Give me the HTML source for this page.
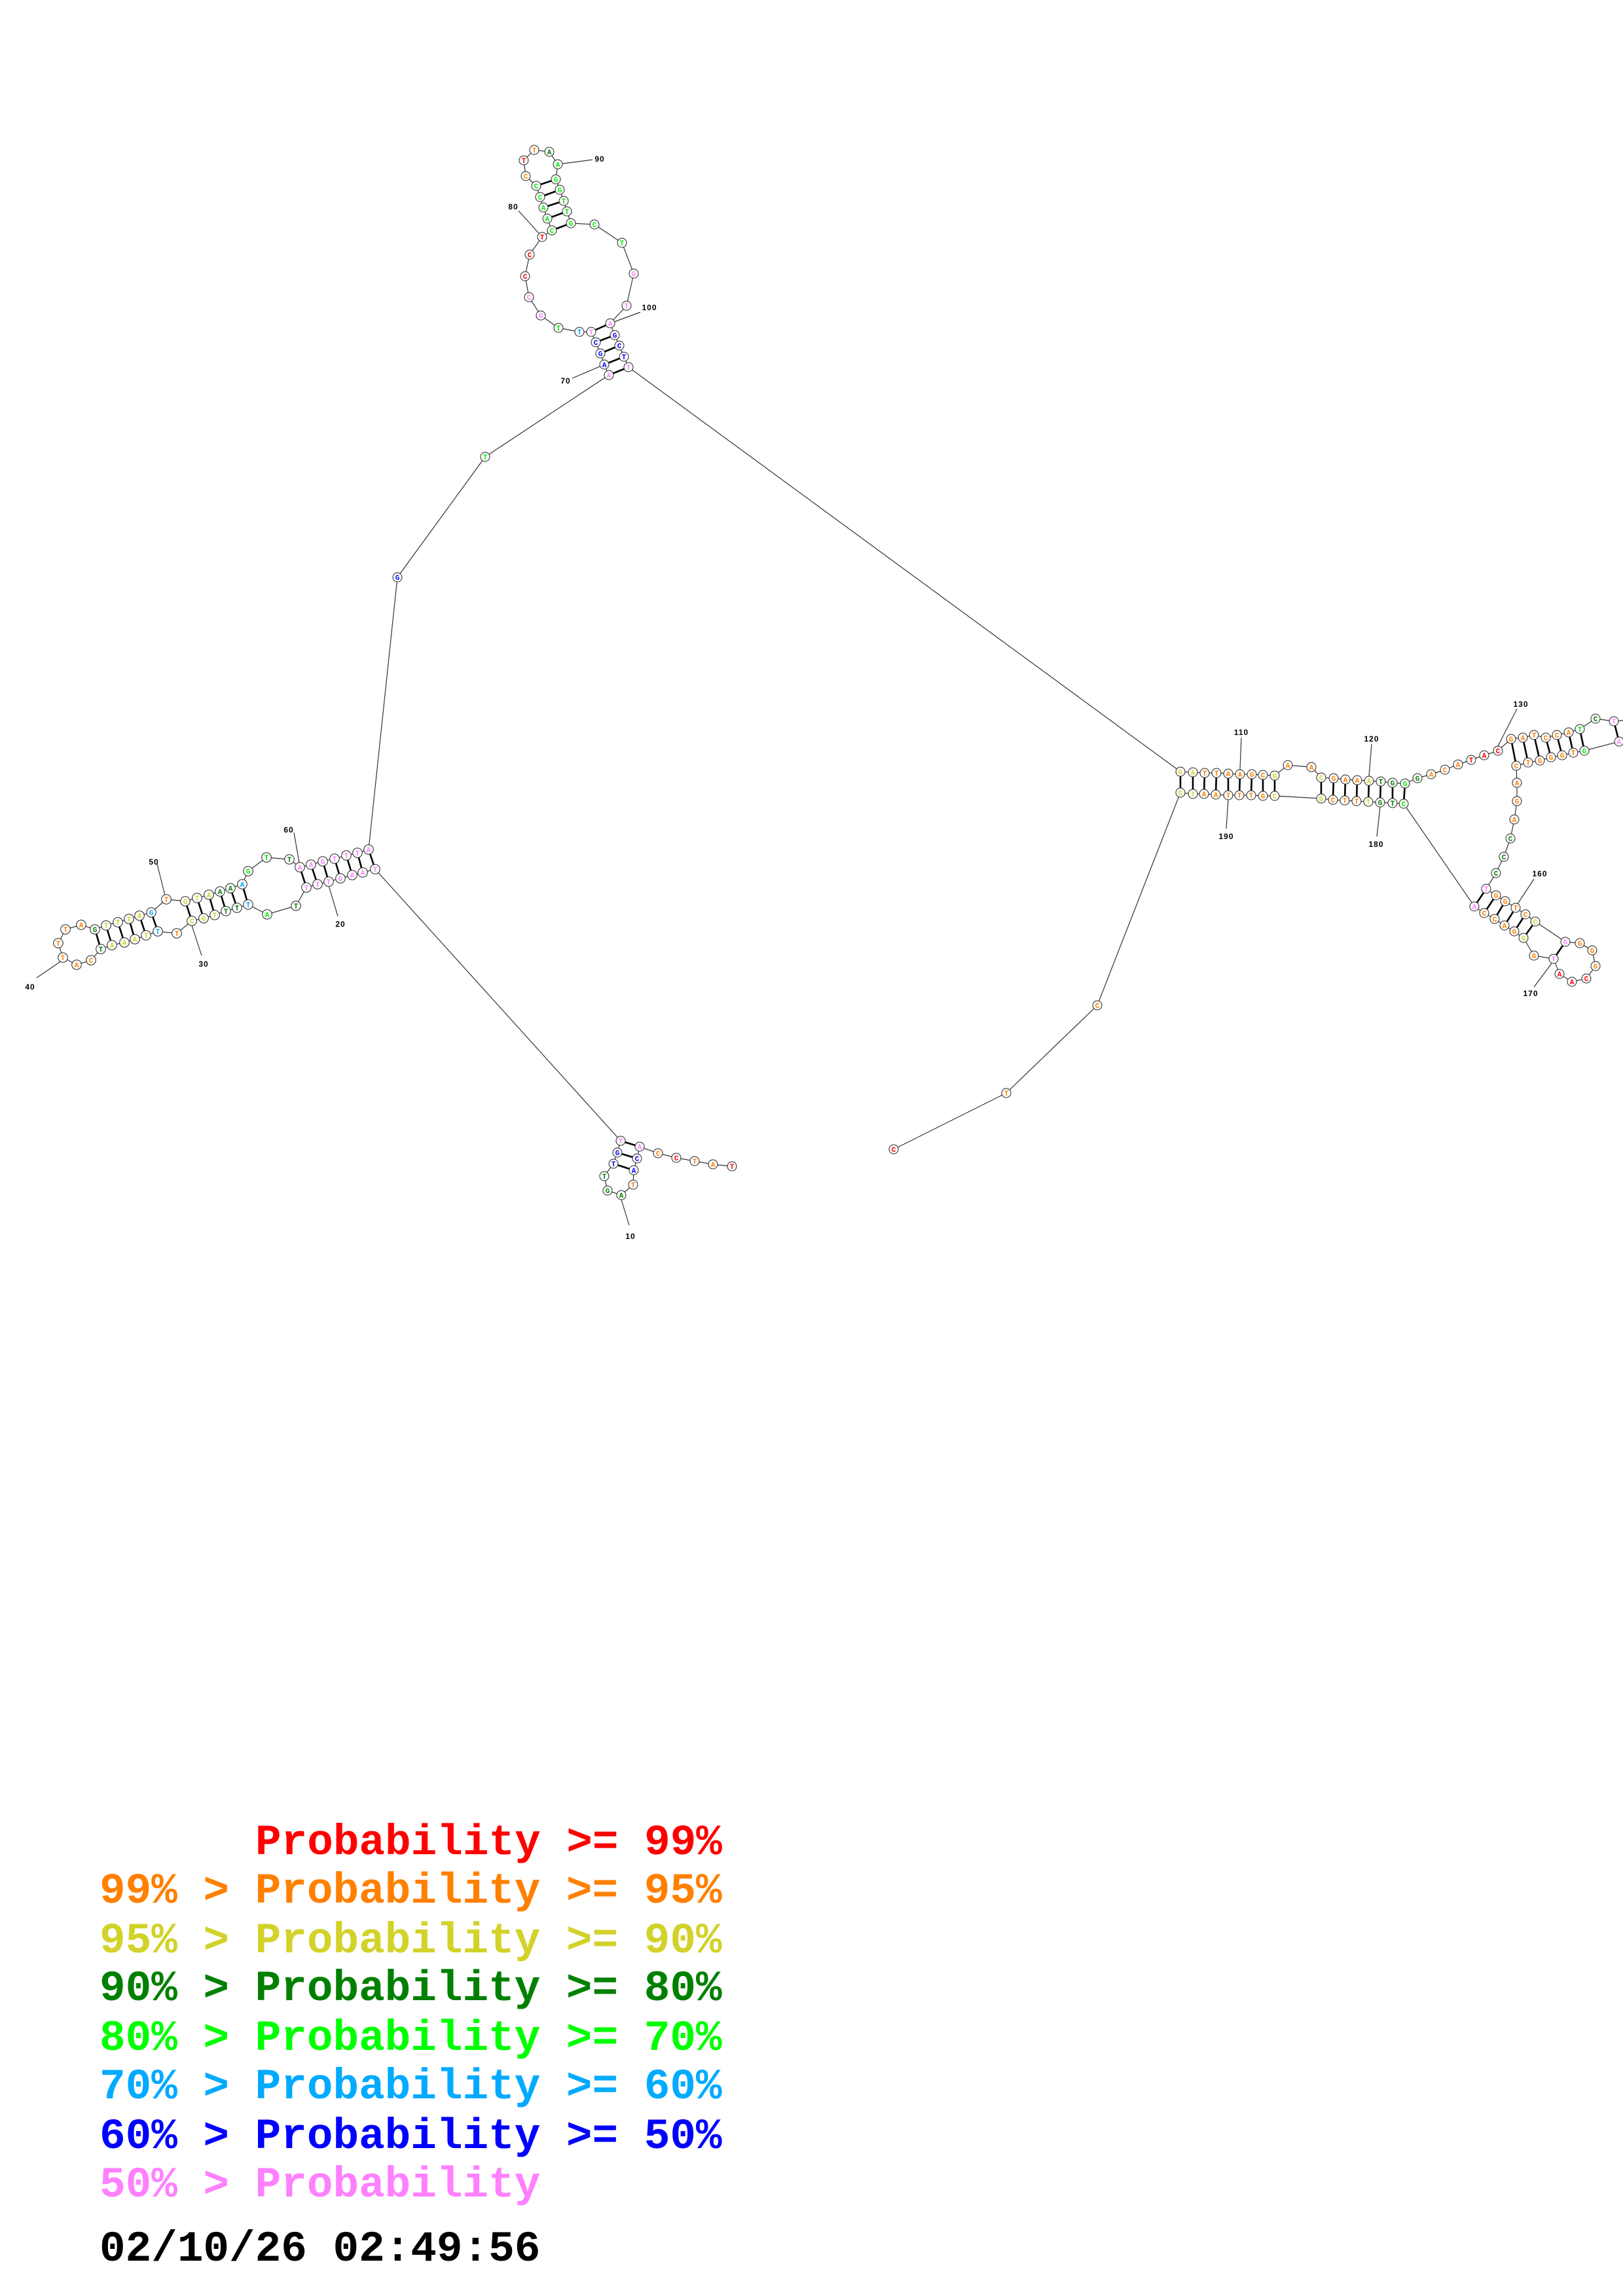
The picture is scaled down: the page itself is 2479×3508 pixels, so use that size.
<!DOCTYPE html>
<html><head><meta charset="utf-8"><style>
html,body{margin:0;padding:0;background:#fff}
svg{display:block}
.n circle{fill:#fff;stroke:#222;stroke-width:1}
.n text{font-family:"Liberation Mono",monospace;font-weight:bold;font-size:11px;text-anchor:middle}
.r text{fill:#ff0000}.o text{fill:#ff8000}.y text{fill:#d2d22a}.d text{fill:#008000}.g text{fill:#00ee00}.c text{fill:#00aaff}.b text{fill:#0000ff}.p text{fill:#ff80ff}
.lb{font-family:"Liberation Sans",sans-serif;font-weight:bold;font-size:12px;letter-spacing:1px;text-anchor:middle}
.lg{font-family:"Liberation Mono",monospace;font-weight:bold;font-size:66px}
</style></head><body>
<svg width="2479" height="3508" viewBox="0 0 2479 3508" xmlns="http://www.w3.org/2000/svg">
<g fill="none" stroke="#333" stroke-width="1.2">
<polyline points="1118,1782 1089,1779 1061,1774 1033,1769 1005,1762 977,1752 973,1770 968,1788 967,1810 949,1826 928,1819 923,1797 937,1778 943,1761 948,1743 573,1328 554,1333 538,1337 520,1342 502,1347 485,1351 468,1356 452,1384 408,1397 379,1382 362,1387 345,1392 328,1398 311,1403 293,1407 270,1426 241,1423 223,1429 206,1435 190,1440 171,1444 154,1450 139,1467 117,1474 96,1463 89,1441 100,1420 124,1413 145,1420 162,1414 180,1409 197,1404 213,1399 231,1394 254,1374 283,1377 301,1372 319,1367 336,1362 352,1357 370,1351 379,1331 407,1310 442,1313 458,1325 475,1321 493,1316 511,1312 529,1307 546,1303 563,1298 607,882 741,698 930,573 923,557 917,540 910,523 903,507 885,507 853,501 826,482 808,454 802,422 809,389 828,362 843,352 836,334 830,317 825,301 819,284 803,269 800,245 816,229 839,232 852,251 849,274 855,290 861,307 866,323 872,341 908,343 950,371 968,418 957,467 932,494 939,512 946,528 953,545 960,561 1803,1179 1822,1180 1840,1181 1858,1181 1876,1182 1894,1183 1912,1183 1929,1184 1947,1185 1967,1169 2003,1172 2018,1188 2037,1189 2055,1191 2073,1192 2091,1193 2109,1194 2127,1196 2146,1197 2165,1189 2186,1183 2207,1176 2227,1168 2247,1161 2267,1154 2288,1147 2308,1129 2326,1127 2343,1123 2361,1127 2378,1123 2396,1119 2413,1114 2437,1098 2465,1102 2490,1100"/>
<polyline points="2490,1135 2473,1133 2420,1147 2403,1150 2386,1154 2369,1157 2352,1162 2334,1165 2316,1170 2317,1196 2317,1224 2313,1252 2307,1281 2297,1309 2285,1334 2270,1358 2285,1368 2299,1377 2315,1387 2330,1397 2345,1408 2391,1439 2413,1441 2432,1452 2437,1476 2423,1495 2401,1500 2382,1488 2373,1465 2343,1460 2327,1433 2313,1423 2298,1414 2283,1404 2267,1395 2252,1385 2144,1228 2127,1227 2108,1226 2090,1225 2072,1224 2054,1223 2036,1222 2018,1220 1947,1216 1929,1216 1911,1215 1893,1215 1876,1215 1857,1214 1839,1213 1822,1213 1803,1211 1676,1536 1537,1670 1365,1756"/>
<path d="M949,1833L961,1872M449,1272L457,1318M240,1320L252,1368M293,1414L308,1460M502,1353L516,1400M94,1468L56,1494M852,251L905,244M792,322L828,362M932,494L978,477M874,578L923,557M1896,1127L1894,1176M1876,1222L1873,1266M2095,1137L2091,1186M2108,1233L2103,1278M2317,1083L2288,1140M2343,1343L2318,1381M2370,1472L2343,1508"/>
</g>
<g stroke="#000" stroke-width="2.6">
<path d="M948,1743L977,1752M943,1761L973,1770M937,1778L968,1788M563,1298L573,1328M546,1303L554,1333M529,1307L538,1337M511,1312L520,1342M493,1316L502,1347M475,1321L485,1351M458,1325L468,1356M370,1351L379,1382M352,1357L362,1387M336,1362L345,1392M319,1367L328,1398M301,1372L311,1403M283,1377L293,1407M231,1394L241,1423M213,1399L223,1429M197,1404L206,1435M180,1409L190,1440M162,1414L171,1444M145,1420L154,1450M930,573L960,561M923,557L953,545M917,540L946,528M910,523L939,512M903,507L932,494M843,352L872,341M836,334L866,323M830,317L861,307M825,301L855,290M819,284L849,274M1803,1179L1803,1211M1822,1180L1822,1213M1840,1181L1839,1213M1858,1181L1857,1214M1876,1182L1876,1215M1894,1183L1893,1215M1912,1183L1911,1215M1929,1184L1929,1216M1947,1185L1947,1216M2018,1188L2018,1220M2037,1189L2036,1222M2055,1191L2054,1223M2073,1192L2072,1224M2091,1193L2090,1225M2109,1194L2108,1226M2127,1196L2127,1227M2146,1197L2144,1228M2308,1129L2316,1170M2326,1127L2334,1165M2343,1123L2352,1162M2361,1127L2369,1157M2378,1123L2386,1154M2396,1119L2403,1150M2413,1114L2420,1147M2465,1102L2473,1133M2270,1358L2252,1385M2285,1368L2267,1395M2299,1377L2283,1404M2315,1387L2298,1414M2330,1397L2313,1423M2345,1408L2327,1433M2391,1439L2373,1465"/>
</g>
<g class="n">
<g class="r" transform="translate(1118 1782)"><circle r="7"/><text y="4">T</text></g>
<g class="o" transform="translate(1089 1779)"><circle r="7"/><text y="4">A</text></g>
<g class="o" transform="translate(1061 1774)"><circle r="7"/><text y="4">T</text></g>
<g class="r" transform="translate(1033 1769)"><circle r="7"/><text y="4">C</text></g>
<g class="o" transform="translate(1005 1762)"><circle r="7"/><text y="4">C</text></g>
<g class="p" transform="translate(977 1752)"><circle r="7"/><text y="4">A</text></g>
<g class="b" transform="translate(973 1770)"><circle r="7"/><text y="4">C</text></g>
<g class="b" transform="translate(968 1788)"><circle r="7"/><text y="4">A</text></g>
<g class="o" transform="translate(967 1810)"><circle r="7"/><text y="4">T</text></g>
<g class="d" transform="translate(949 1826)"><circle r="7"/><text y="4">A</text></g>
<g class="d" transform="translate(928 1819)"><circle r="7"/><text y="4">G</text></g>
<g class="d" transform="translate(923 1797)"><circle r="7"/><text y="4">T</text></g>
<g class="b" transform="translate(937 1778)"><circle r="7"/><text y="4">T</text></g>
<g class="b" transform="translate(943 1761)"><circle r="7"/><text y="4">G</text></g>
<g class="p" transform="translate(948 1743)"><circle r="7"/><text y="4">T</text></g>
<g class="p" transform="translate(573 1328)"><circle r="7.3"/><text y="4">T</text></g>
<g class="p" transform="translate(554 1333)"><circle r="7.3"/><text y="4">A</text></g>
<g class="p" transform="translate(538 1337)"><circle r="7.3"/><text y="4">A</text></g>
<g class="p" transform="translate(520 1342)"><circle r="7.3"/><text y="4">G</text></g>
<g class="p" transform="translate(502 1347)"><circle r="7.3"/><text y="4">T</text></g>
<g class="p" transform="translate(485 1351)"><circle r="7.3"/><text y="4">T</text></g>
<g class="p" transform="translate(468 1356)"><circle r="7.3"/><text y="4">T</text></g>
<g class="d" transform="translate(452 1384)"><circle r="7.3"/><text y="4">T</text></g>
<g class="g" transform="translate(408 1397)"><circle r="7.3"/><text y="4">A</text></g>
<g class="c" transform="translate(379 1382)"><circle r="7.3"/><text y="4">T</text></g>
<g class="d" transform="translate(362 1387)"><circle r="7.3"/><text y="4">T</text></g>
<g class="d" transform="translate(345 1392)"><circle r="7.3"/><text y="4">T</text></g>
<g class="y" transform="translate(328 1398)"><circle r="7.3"/><text y="4">T</text></g>
<g class="y" transform="translate(311 1403)"><circle r="7.3"/><text y="4">G</text></g>
<g class="y" transform="translate(293 1407)"><circle r="7.3"/><text y="4">C</text></g>
<g class="o" transform="translate(270 1426)"><circle r="7.3"/><text y="4">T</text></g>
<g class="c" transform="translate(241 1423)"><circle r="7.3"/><text y="4">T</text></g>
<g class="y" transform="translate(223 1429)"><circle r="7.3"/><text y="4">T</text></g>
<g class="y" transform="translate(206 1435)"><circle r="7.3"/><text y="4">A</text></g>
<g class="y" transform="translate(190 1440)"><circle r="7.3"/><text y="4">A</text></g>
<g class="y" transform="translate(171 1444)"><circle r="7.3"/><text y="4">A</text></g>
<g class="d" transform="translate(154 1450)"><circle r="7.3"/><text y="4">T</text></g>
<g class="o" transform="translate(139 1467)"><circle r="7.3"/><text y="4">C</text></g>
<g class="o" transform="translate(117 1474)"><circle r="7.3"/><text y="4">A</text></g>
<g class="o" transform="translate(96 1463)"><circle r="7.3"/><text y="4">T</text></g>
<g class="o" transform="translate(89 1441)"><circle r="7.3"/><text y="4">T</text></g>
<g class="o" transform="translate(100 1420)"><circle r="7.3"/><text y="4">T</text></g>
<g class="o" transform="translate(124 1413)"><circle r="7.3"/><text y="4">A</text></g>
<g class="d" transform="translate(145 1420)"><circle r="7.3"/><text y="4">G</text></g>
<g class="y" transform="translate(162 1414)"><circle r="7.3"/><text y="4">T</text></g>
<g class="y" transform="translate(180 1409)"><circle r="7.3"/><text y="4">T</text></g>
<g class="y" transform="translate(197 1404)"><circle r="7.3"/><text y="4">T</text></g>
<g class="y" transform="translate(213 1399)"><circle r="7.3"/><text y="4">A</text></g>
<g class="c" transform="translate(231 1394)"><circle r="7.3"/><text y="4">G</text></g>
<g class="o" transform="translate(254 1374)"><circle r="7.3"/><text y="4">T</text></g>
<g class="y" transform="translate(283 1377)"><circle r="7.3"/><text y="4">G</text></g>
<g class="y" transform="translate(301 1372)"><circle r="7.3"/><text y="4">T</text></g>
<g class="y" transform="translate(319 1367)"><circle r="7.3"/><text y="4">A</text></g>
<g class="d" transform="translate(336 1362)"><circle r="7.3"/><text y="4">A</text></g>
<g class="d" transform="translate(352 1357)"><circle r="7.3"/><text y="4">A</text></g>
<g class="c" transform="translate(370 1351)"><circle r="7.3"/><text y="4">A</text></g>
<g class="g" transform="translate(379 1331)"><circle r="7.3"/><text y="4">G</text></g>
<g class="g" transform="translate(407 1310)"><circle r="7.3"/><text y="4">T</text></g>
<g class="d" transform="translate(442 1313)"><circle r="7.3"/><text y="4">T</text></g>
<g class="p" transform="translate(458 1325)"><circle r="7.3"/><text y="4">A</text></g>
<g class="p" transform="translate(475 1321)"><circle r="7.3"/><text y="4">A</text></g>
<g class="p" transform="translate(493 1316)"><circle r="7.3"/><text y="4">G</text></g>
<g class="p" transform="translate(511 1312)"><circle r="7.3"/><text y="4">T</text></g>
<g class="p" transform="translate(529 1307)"><circle r="7.3"/><text y="4">T</text></g>
<g class="p" transform="translate(546 1303)"><circle r="7.3"/><text y="4">T</text></g>
<g class="p" transform="translate(563 1298)"><circle r="7.3"/><text y="4">A</text></g>
<g class="b" transform="translate(607 882)"><circle r="7"/><text y="4">G</text></g>
<g class="g" transform="translate(741 698)"><circle r="7"/><text y="4">T</text></g>
<g class="p" transform="translate(930 573)"><circle r="7"/><text y="4">A</text></g>
<g class="b" transform="translate(923 557)"><circle r="7"/><text y="4">A</text></g>
<g class="b" transform="translate(917 540)"><circle r="7"/><text y="4">G</text></g>
<g class="b" transform="translate(910 523)"><circle r="7"/><text y="4">C</text></g>
<g class="p" transform="translate(903 507)"><circle r="7"/><text y="4">T</text></g>
<g class="c" transform="translate(885 507)"><circle r="7"/><text y="4">T</text></g>
<g class="g" transform="translate(853 501)"><circle r="7"/><text y="4">T</text></g>
<g class="p" transform="translate(826 482)"><circle r="7"/><text y="4">G</text></g>
<g class="p" transform="translate(808 454)"><circle r="7"/><text y="4">C</text></g>
<g class="r" transform="translate(802 422)"><circle r="7"/><text y="4">C</text></g>
<g class="r" transform="translate(809 389)"><circle r="7"/><text y="4">C</text></g>
<g class="r" transform="translate(828 362)"><circle r="7"/><text y="4">T</text></g>
<g class="g" transform="translate(843 352)"><circle r="7"/><text y="4">C</text></g>
<g class="g" transform="translate(836 334)"><circle r="7"/><text y="4">A</text></g>
<g class="g" transform="translate(830 317)"><circle r="7"/><text y="4">A</text></g>
<g class="g" transform="translate(825 301)"><circle r="7"/><text y="4">C</text></g>
<g class="g" transform="translate(819 284)"><circle r="7"/><text y="4">C</text></g>
<g class="o" transform="translate(803 269)"><circle r="7"/><text y="4">C</text></g>
<g class="r" transform="translate(800 245)"><circle r="7"/><text y="4">T</text></g>
<g class="o" transform="translate(816 229)"><circle r="7"/><text y="4">T</text></g>
<g class="d" transform="translate(839 232)"><circle r="7"/><text y="4">A</text></g>
<g class="g" transform="translate(852 251)"><circle r="7"/><text y="4">A</text></g>
<g class="g" transform="translate(849 274)"><circle r="7"/><text y="4">G</text></g>
<g class="g" transform="translate(855 290)"><circle r="7"/><text y="4">G</text></g>
<g class="g" transform="translate(861 307)"><circle r="7"/><text y="4">T</text></g>
<g class="g" transform="translate(866 323)"><circle r="7"/><text y="4">T</text></g>
<g class="g" transform="translate(872 341)"><circle r="7"/><text y="4">G</text></g>
<g class="g" transform="translate(908 343)"><circle r="7"/><text y="4">C</text></g>
<g class="g" transform="translate(950 371)"><circle r="7"/><text y="4">T</text></g>
<g class="p" transform="translate(968 418)"><circle r="7"/><text y="4">G</text></g>
<g class="p" transform="translate(957 467)"><circle r="7"/><text y="4">T</text></g>
<g class="p" transform="translate(932 494)"><circle r="7"/><text y="4">A</text></g>
<g class="b" transform="translate(939 512)"><circle r="7"/><text y="4">G</text></g>
<g class="b" transform="translate(946 528)"><circle r="7"/><text y="4">C</text></g>
<g class="b" transform="translate(953 545)"><circle r="7"/><text y="4">T</text></g>
<g class="p" transform="translate(960 561)"><circle r="7"/><text y="4">T</text></g>
<g class="y" transform="translate(1803 1179)"><circle r="7"/><text y="4">G</text></g>
<g class="y" transform="translate(1822 1180)"><circle r="7"/><text y="4">A</text></g>
<g class="o" transform="translate(1840 1181)"><circle r="7"/><text y="4">T</text></g>
<g class="o" transform="translate(1858 1181)"><circle r="7"/><text y="4">T</text></g>
<g class="o" transform="translate(1876 1182)"><circle r="7"/><text y="4">A</text></g>
<g class="o" transform="translate(1894 1183)"><circle r="7"/><text y="4">A</text></g>
<g class="o" transform="translate(1912 1183)"><circle r="7"/><text y="4">G</text></g>
<g class="o" transform="translate(1929 1184)"><circle r="7"/><text y="4">C</text></g>
<g class="y" transform="translate(1947 1185)"><circle r="7"/><text y="4">G</text></g>
<g class="o" transform="translate(1967 1169)"><circle r="7"/><text y="4">A</text></g>
<g class="o" transform="translate(2003 1172)"><circle r="7"/><text y="4">A</text></g>
<g class="y" transform="translate(2018 1188)"><circle r="7"/><text y="4">C</text></g>
<g class="o" transform="translate(2037 1189)"><circle r="7"/><text y="4">G</text></g>
<g class="o" transform="translate(2055 1191)"><circle r="7"/><text y="4">A</text></g>
<g class="o" transform="translate(2073 1192)"><circle r="7"/><text y="4">A</text></g>
<g class="y" transform="translate(2091 1193)"><circle r="7"/><text y="4">A</text></g>
<g class="d" transform="translate(2109 1194)"><circle r="7"/><text y="4">T</text></g>
<g class="d" transform="translate(2127 1196)"><circle r="7"/><text y="4">G</text></g>
<g class="g" transform="translate(2146 1197)"><circle r="7"/><text y="4">G</text></g>
<g class="d" transform="translate(2165 1189)"><circle r="7"/><text y="4">G</text></g>
<g class="o" transform="translate(2186 1183)"><circle r="7"/><text y="4">A</text></g>
<g class="o" transform="translate(2207 1176)"><circle r="7"/><text y="4">C</text></g>
<g class="o" transform="translate(2227 1168)"><circle r="7"/><text y="4">A</text></g>
<g class="r" transform="translate(2247 1161)"><circle r="7"/><text y="4">T</text></g>
<g class="r" transform="translate(2267 1154)"><circle r="7"/><text y="4">A</text></g>
<g class="r" transform="translate(2288 1147)"><circle r="7"/><text y="4">C</text></g>
<g class="o" transform="translate(2308 1129)"><circle r="7"/><text y="4">G</text></g>
<g class="o" transform="translate(2326 1127)"><circle r="7"/><text y="4">A</text></g>
<g class="o" transform="translate(2343 1123)"><circle r="7"/><text y="4">T</text></g>
<g class="o" transform="translate(2361 1127)"><circle r="7"/><text y="4">C</text></g>
<g class="o" transform="translate(2378 1123)"><circle r="7"/><text y="4">C</text></g>
<g class="o" transform="translate(2396 1119)"><circle r="7"/><text y="4">A</text></g>
<g class="g" transform="translate(2413 1114)"><circle r="7"/><text y="4">T</text></g>
<g class="d" transform="translate(2437 1098)"><circle r="7"/><text y="4">C</text></g>
<g class="p" transform="translate(2465 1102)"><circle r="7"/><text y="4">T</text></g>
<g class="p" transform="translate(2473 1133)"><circle r="7"/><text y="4">A</text></g>
<g class="g" transform="translate(2420 1147)"><circle r="7"/><text y="4">G</text></g>
<g class="o" transform="translate(2403 1150)"><circle r="7"/><text y="4">T</text></g>
<g class="o" transform="translate(2386 1154)"><circle r="7"/><text y="4">G</text></g>
<g class="o" transform="translate(2369 1157)"><circle r="7"/><text y="4">G</text></g>
<g class="o" transform="translate(2352 1162)"><circle r="7"/><text y="4">G</text></g>
<g class="o" transform="translate(2334 1165)"><circle r="7"/><text y="4">T</text></g>
<g class="o" transform="translate(2316 1170)"><circle r="7"/><text y="4">C</text></g>
<g class="o" transform="translate(2317 1196)"><circle r="7"/><text y="4">A</text></g>
<g class="o" transform="translate(2317 1224)"><circle r="7"/><text y="4">G</text></g>
<g class="o" transform="translate(2313 1252)"><circle r="7"/><text y="4">A</text></g>
<g class="d" transform="translate(2307 1281)"><circle r="7"/><text y="4">C</text></g>
<g class="d" transform="translate(2297 1309)"><circle r="7"/><text y="4">C</text></g>
<g class="d" transform="translate(2285 1334)"><circle r="7"/><text y="4">C</text></g>
<g class="p" transform="translate(2270 1358)"><circle r="7"/><text y="4">T</text></g>
<g class="o" transform="translate(2285 1368)"><circle r="7"/><text y="4">G</text></g>
<g class="o" transform="translate(2299 1377)"><circle r="7"/><text y="4">G</text></g>
<g class="o" transform="translate(2315 1387)"><circle r="7"/><text y="4">T</text></g>
<g class="o" transform="translate(2330 1397)"><circle r="7"/><text y="4">C</text></g>
<g class="y" transform="translate(2345 1408)"><circle r="7"/><text y="4">C</text></g>
<g class="p" transform="translate(2391 1439)"><circle r="7"/><text y="4">G</text></g>
<g class="o" transform="translate(2413 1441)"><circle r="7"/><text y="4">G</text></g>
<g class="o" transform="translate(2432 1452)"><circle r="7"/><text y="4">G</text></g>
<g class="o" transform="translate(2437 1476)"><circle r="7"/><text y="4">G</text></g>
<g class="r" transform="translate(2423 1495)"><circle r="7"/><text y="4">C</text></g>
<g class="r" transform="translate(2401 1500)"><circle r="7"/><text y="4">A</text></g>
<g class="r" transform="translate(2382 1488)"><circle r="7"/><text y="4">A</text></g>
<g class="p" transform="translate(2373 1465)"><circle r="7"/><text y="4">T</text></g>
<g class="o" transform="translate(2343 1460)"><circle r="7"/><text y="4">G</text></g>
<g class="y" transform="translate(2327 1433)"><circle r="7"/><text y="4">G</text></g>
<g class="o" transform="translate(2313 1423)"><circle r="7"/><text y="4">G</text></g>
<g class="o" transform="translate(2298 1414)"><circle r="7"/><text y="4">A</text></g>
<g class="o" transform="translate(2283 1404)"><circle r="7"/><text y="4">C</text></g>
<g class="o" transform="translate(2267 1395)"><circle r="7"/><text y="4">C</text></g>
<g class="p" transform="translate(2252 1385)"><circle r="7"/><text y="4">A</text></g>
<g class="g" transform="translate(2144 1228)"><circle r="7"/><text y="4">C</text></g>
<g class="d" transform="translate(2127 1227)"><circle r="7"/><text y="4">T</text></g>
<g class="d" transform="translate(2108 1226)"><circle r="7"/><text y="4">G</text></g>
<g class="y" transform="translate(2090 1225)"><circle r="7"/><text y="4">T</text></g>
<g class="o" transform="translate(2072 1224)"><circle r="7"/><text y="4">T</text></g>
<g class="o" transform="translate(2054 1223)"><circle r="7"/><text y="4">T</text></g>
<g class="o" transform="translate(2036 1222)"><circle r="7"/><text y="4">C</text></g>
<g class="y" transform="translate(2018 1220)"><circle r="7"/><text y="4">G</text></g>
<g class="y" transform="translate(1947 1216)"><circle r="7"/><text y="4">C</text></g>
<g class="o" transform="translate(1929 1216)"><circle r="7"/><text y="4">G</text></g>
<g class="o" transform="translate(1911 1215)"><circle r="7"/><text y="4">T</text></g>
<g class="o" transform="translate(1893 1215)"><circle r="7"/><text y="4">T</text></g>
<g class="o" transform="translate(1876 1215)"><circle r="7"/><text y="4">T</text></g>
<g class="o" transform="translate(1857 1214)"><circle r="7"/><text y="4">A</text></g>
<g class="o" transform="translate(1839 1213)"><circle r="7"/><text y="4">A</text></g>
<g class="y" transform="translate(1822 1213)"><circle r="7"/><text y="4">T</text></g>
<g class="y" transform="translate(1803 1211)"><circle r="7"/><text y="4">C</text></g>
<g class="o" transform="translate(1676 1536)"><circle r="7"/><text y="4">C</text></g>
<g class="o" transform="translate(1537 1670)"><circle r="7"/><text y="4">T</text></g>
<g class="r" transform="translate(1365 1756)"><circle r="7"/><text y="4">C</text></g>
</g>
<g class="lb">
<text x="963" y="1893">10</text><text x="520" y="1416">20</text><text x="311" y="1477">30</text><text x="46" y="1512">40</text><text x="235" y="1321">50</text><text x="441" y="1272">60</text><text x="864" y="586">70</text><text x="784" y="320">80</text><text x="916" y="247">90</text><text x="992" y="474">100</text><text x="1896" y="1123">110</text><text x="2095" y="1133">120</text><text x="2323" y="1080">130</text><text x="2352" y="1339">160</text><text x="2338" y="1522">170</text><text x="2102" y="1294">180</text><text x="1873" y="1282">190</text>
</g>
<g class="lg">
<text x="390" y="2833" fill="#ff0000">Probability &gt;= 99%</text>
<text x="152" y="2907" fill="#ff8000" xml:space="preserve">99% &gt; Probability &gt;= 95%</text>
<text x="152" y="2983" fill="#d2d22a" xml:space="preserve">95% &gt; Probability &gt;= 90%</text>
<text x="152" y="3056" fill="#008000" xml:space="preserve">90% &gt; Probability &gt;= 80%</text>
<text x="152" y="3132" fill="#00ff00" xml:space="preserve">80% &gt; Probability &gt;= 70%</text>
<text x="152" y="3206" fill="#00aaff" xml:space="preserve">70% &gt; Probability &gt;= 60%</text>
<text x="152" y="3282" fill="#0000ff" xml:space="preserve">60% &gt; Probability &gt;= 50%</text>
<text x="152" y="3356" fill="#ff80ff" xml:space="preserve">50% &gt; Probability</text>
<text x="152" y="3454" fill="#000" xml:space="preserve">02/10/26 02:49:56</text>
</g>
</svg>
</body></html>
